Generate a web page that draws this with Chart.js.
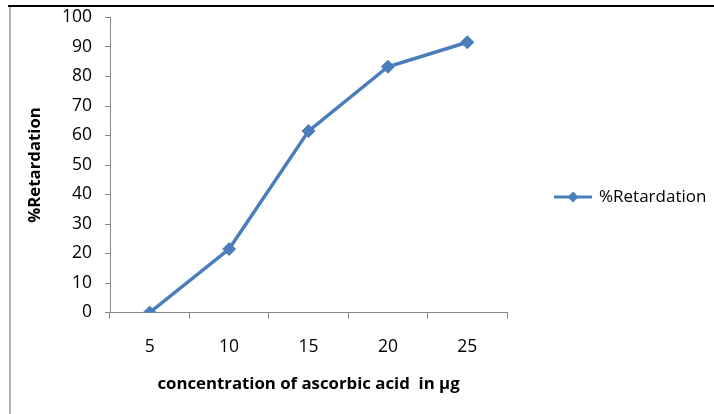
<!DOCTYPE html>
<html>
<head>
<meta charset="utf-8">
<script src="https://cdn.jsdelivr.net/npm/chart.js@4/dist/chart.umd.min.js"></script>
<style>
html,body{margin:0;padding:0;background:#fff;}
#wrap{width:714px;height:414px;position:relative;}
</style>
</head>
<body>
<div id="wrap"><canvas id="c" width="714" height="414"></canvas></div>
<script>
const categories = ['5', '10', '15', '20', '25'];
const retardation = [0, 21.5, 61.5, 83.3, 91.6];
const seriesName = '%Retardation';
const xTitle = 'concentration of ascorbic acid  in μg';
const yTitle = '%Retardation';

const LINE = '#4A7EBB';
const AXIS = '#868686';
const FONT = "'Open Sans', 'Liberation Sans', sans-serif";

const frame = {
  id: 'frame',
  beforeDraw(chart) {
    const ctx = chart.ctx;
    ctx.save();
    ctx.fillStyle = '#fff';
    ctx.fillRect(0, 0, chart.width, chart.height);
    ctx.fillStyle = '#000';
    ctx.fillRect(8, 5, chart.width - 8, 2);
    ctx.fillStyle = '#b4b4b4';
    ctx.fillRect(9, 7, 2, chart.height - 7);
    ctx.restore();
  }
};

const customLegend = {
  id: 'customLegend',
  afterDraw(chart) {
    const ctx = chart.ctx;
    const y = 197;
    ctx.save();
    ctx.strokeStyle = LINE;
    ctx.lineWidth = 3;
    ctx.beginPath();
    ctx.moveTo(554, y);
    ctx.lineTo(592, y);
    ctx.stroke();
    ctx.fillStyle = LINE;
    ctx.beginPath();
    ctx.moveTo(573 - 5.5, y); ctx.lineTo(573, y - 5.5); ctx.lineTo(573 + 5.5, y); ctx.lineTo(573, y + 5.5);
    ctx.closePath(); ctx.fill();
    ctx.fillStyle = '#000';
    ctx.font = "17px " + FONT;
    ctx.textBaseline = 'middle';
    ctx.textAlign = 'left';
    ctx.fillText(seriesName, 599, y);
    ctx.restore();
  }
};

new Chart(document.getElementById('c'), {
  type: 'line',
  data: {
    labels: categories,
    datasets: [{
      label: seriesName,
      data: retardation,
      borderColor: LINE,
      backgroundColor: LINE,
      borderWidth: 3.5,
      pointStyle: 'rectRot',
      pointRadius: 6.5,
      pointBorderWidth: 1,
      pointBackgroundColor: LINE,
      pointBorderColor: LINE,
      tension: 0
    }]
  },
  options: {
    responsive: false,
    animation: false,
    devicePixelRatio: 1,
    layout: {padding: {top: 17.5, right: 207, bottom: 0, left: 0}},
    plugins: {legend: {display: false}, tooltip: {enabled: false}},
    scales: {
      x: {
        type: 'category',
        offset: true,
        afterFit(s) { s.height = 101.5; },
        grid: {display: true, drawOnChartArea: false, drawTicks: true, tickLength: 6, color: AXIS, offset: true},
        border: {display: true, color: AXIS, width: 1},
        ticks: {color: '#000', font: {family: FONT, size: 17.5}, padding: 18, maxRotation: 0},
        title: {display: true, text: xTitle, color: '#000', font: {family: FONT, size: 16.8, weight: 'bold'}, padding: {top: 0, bottom: 20}}
      },
      y: {
        min: 0, max: 100,
        afterFit(s) { s.width = 110; s.paddingTop = 0; s.paddingBottom = 0; },
        grid: {display: true, drawOnChartArea: false, drawTicks: true, tickLength: 5, color: AXIS},
        border: {display: true, color: AXIS, width: 1},
        ticks: {stepSize: 10, color: '#000', font: {family: FONT, size: 17.5}, padding: 13},
        title: {display: true, text: yTitle, color: '#000', font: {family: FONT, size: 16.8, weight: 'bold'}, padding: {top: 25, bottom: 0}}
      }
    }
  },
  plugins: [frame, customLegend]
});
</script>
</body>
</html>
